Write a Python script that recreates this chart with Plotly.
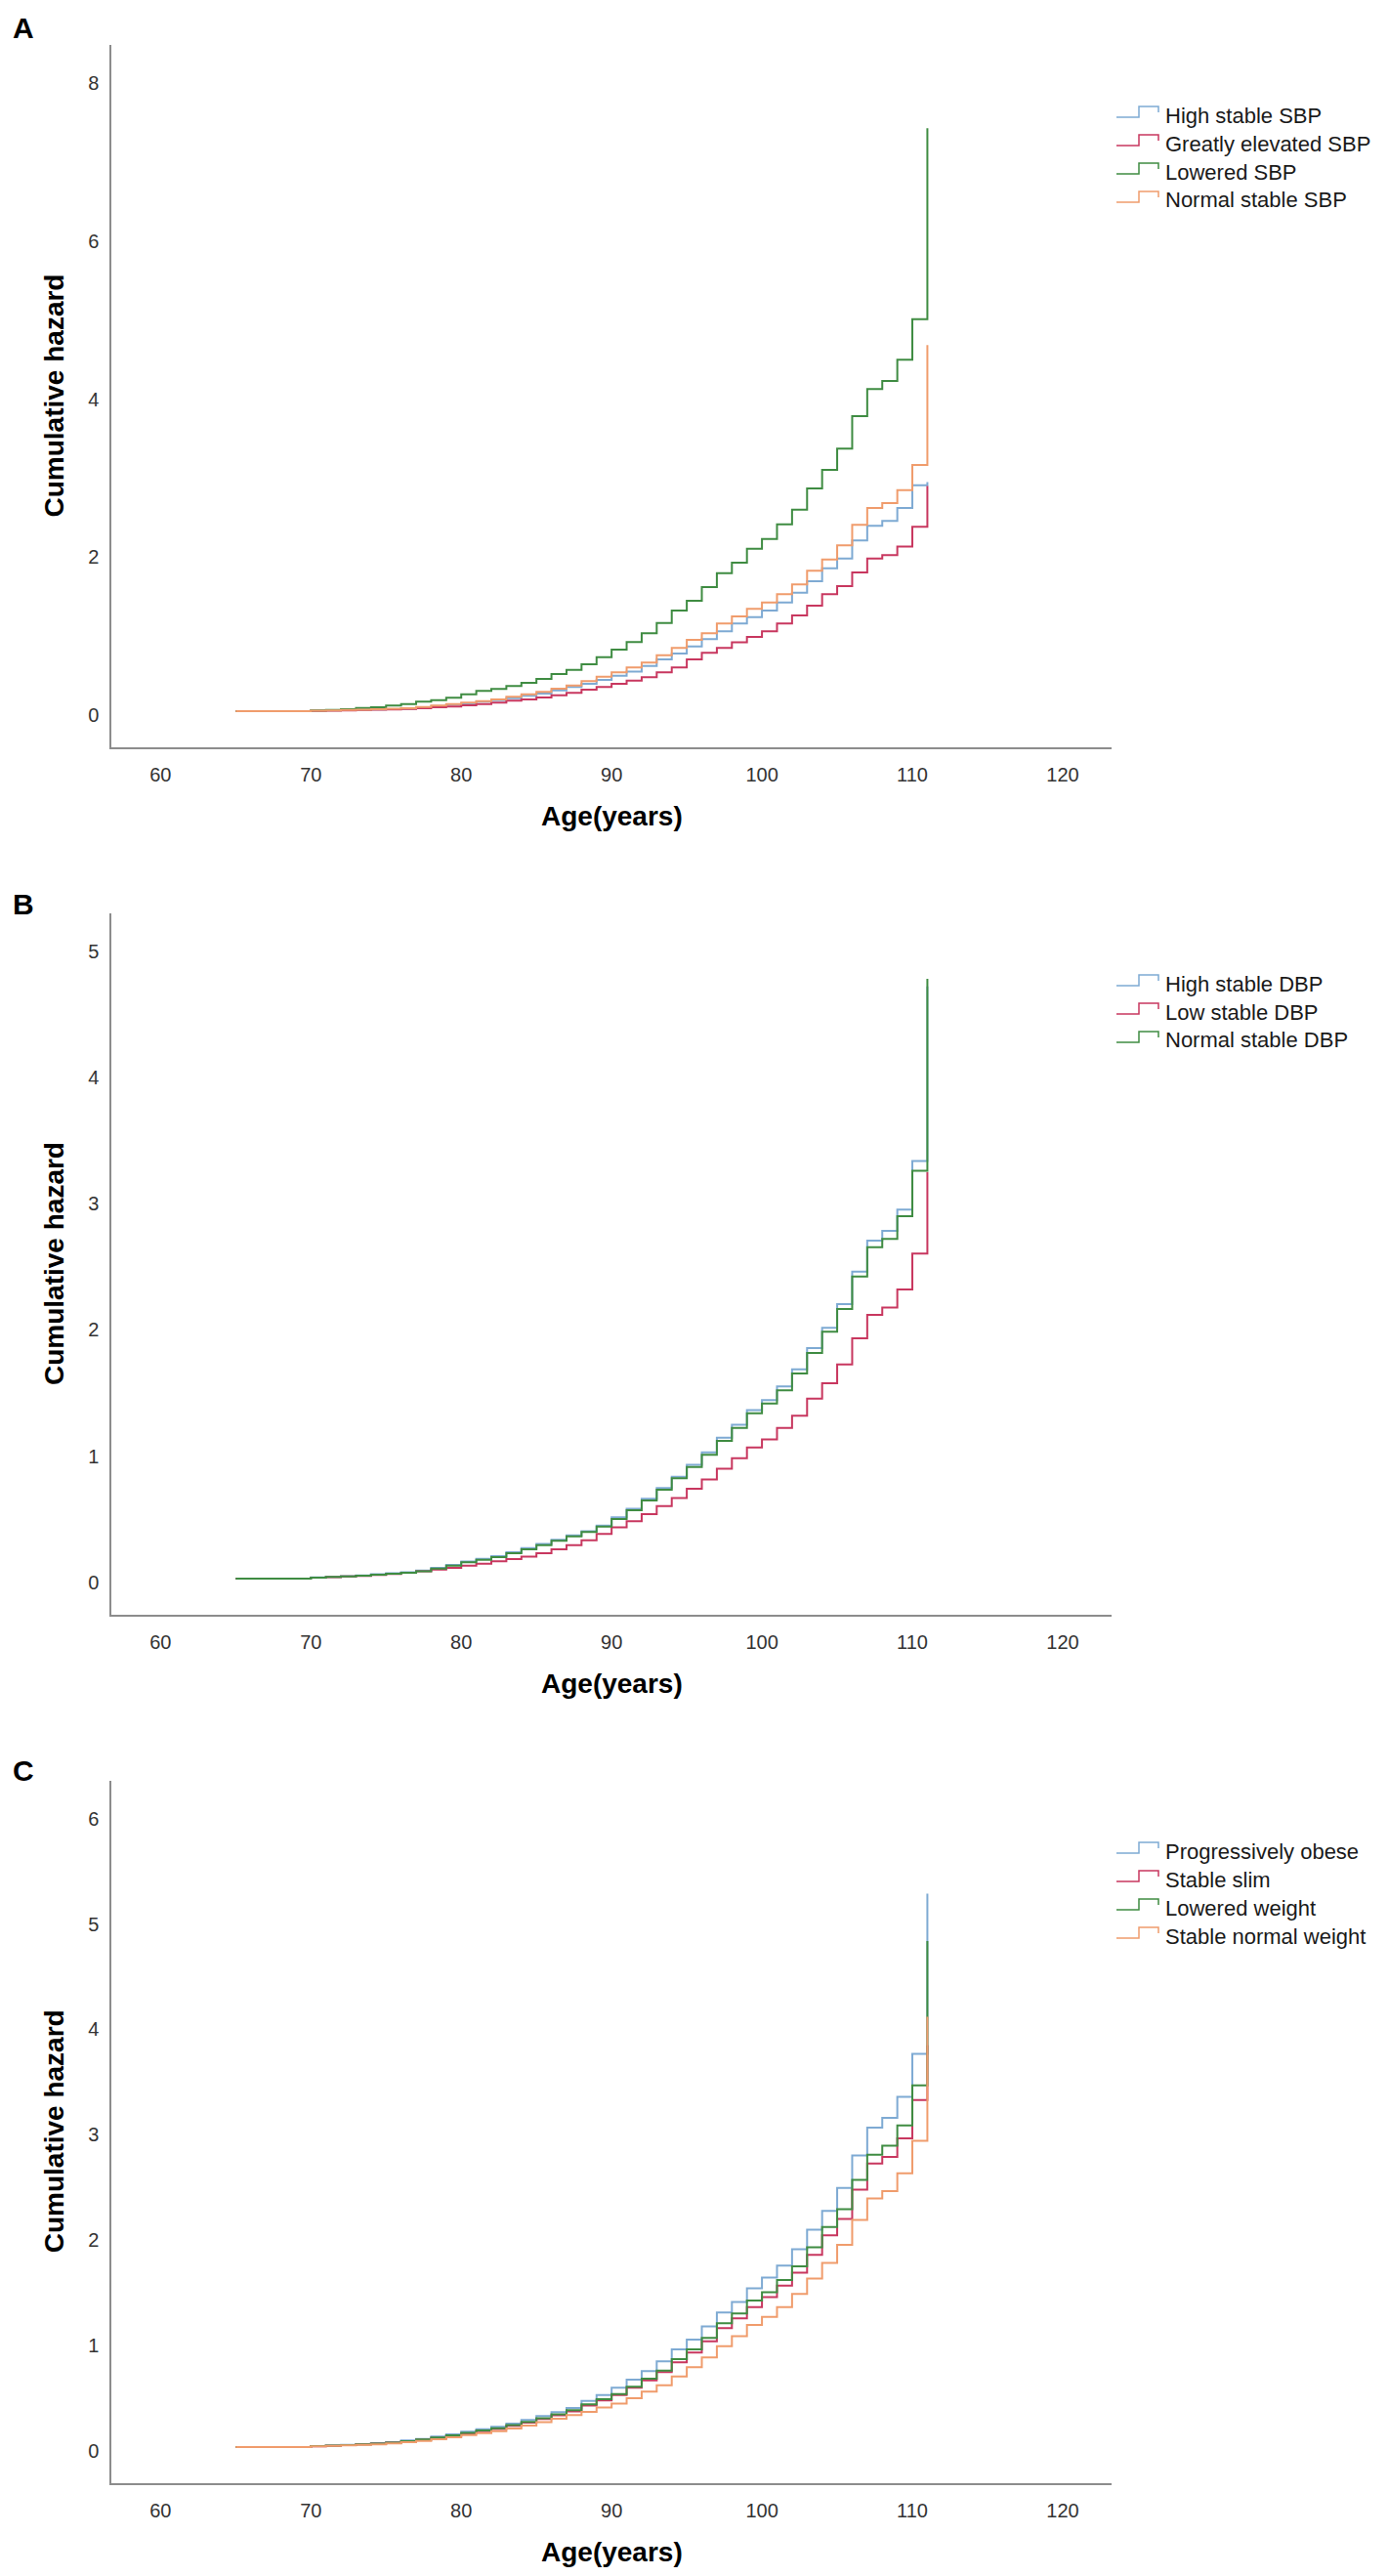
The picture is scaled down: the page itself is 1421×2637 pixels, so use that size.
"""
    Purpose: Cumulative hazard by age for blood pressure and weight trajectory groups,
        three stacked panels (A: SBP, B: DBP, C: weight). Step curves, one per group.
    Outputs:
        out.html: self-contained html file with the three panels.
"""
##########==========##########==========##########==========##########==========##########==========
## INITIALIZE

import plotly.graph_objects as go

## ages (step starts 65..110, final vertical at 111)
AGES = [65, 66, 67, 68, 69, 70, 71, 72, 73, 74, 75, 76, 77, 78, 79, 80, 81, 82, 83, 84, 85, 86, 87,
        88, 89, 90, 91, 92, 93, 94, 95, 96, 97, 98, 99, 100, 101, 102, 103, 104, 105, 106, 107, 108,
        109, 110, 111]

## panel A - systolic blood pressure
SBP_HIGH_STABLE = [0.05, 0.05, 0.05, 0.05, 0.05,
                   0.055, 0.06, 0.062, 0.066, 0.07, 0.075,
                   0.082, 0.099, 0.115, 0.132, 0.148, 0.169, 0.190, 0.214, 0.243, 0.272, 0.313,
                   0.355, 0.396, 0.445, 0.499, 0.552, 0.623, 0.705, 0.779, 0.870, 0.961,
                   1.06, 1.158, 1.241, 1.323, 1.426, 1.550, 1.694, 1.859, 1.983, 2.210, 2.395,
                   2.457, 2.622, 2.911,
                   2.95]
SBP_GREATLY_ELEVATED = [0.05, 0.05, 0.05, 0.05, 0.05,
                        0.053, 0.057, 0.06, 0.064, 0.068, 0.072,
                        0.078, 0.087, 0.099, 0.107, 0.124, 0.140, 0.157, 0.181, 0.198, 0.223,
                        0.251, 0.280, 0.322, 0.355, 0.396, 0.437, 0.478, 0.540, 0.602, 0.705,
                        0.788,
                        0.85, 0.92, 0.99, 1.06, 1.158, 1.262, 1.385, 1.530, 1.633, 1.806, 1.983,
                        2.024, 2.135, 2.383,
                        2.90]
SBP_LOWERED = [0.05, 0.05, 0.05, 0.05, 0.05,
               0.06, 0.065, 0.075, 0.09, 0.10, 0.12,
               0.140, 0.169, 0.190, 0.219, 0.264, 0.305, 0.330, 0.367, 0.408, 0.458, 0.519,
               0.573, 0.643, 0.734, 0.829, 0.924, 1.035, 1.166, 1.323, 1.447, 1.620,
               1.797, 1.930, 2.107, 2.230, 2.416, 2.601, 2.870, 3.105, 3.373, 3.785, 4.127,
               4.230, 4.498, 5.013,
               7.43]
SBP_NORMAL_STABLE = [0.05, 0.05, 0.05, 0.05, 0.05,
                     0.055, 0.06, 0.064, 0.068, 0.073, 0.08,
                     0.087, 0.103, 0.120, 0.140, 0.157, 0.177, 0.198, 0.231, 0.264, 0.293, 0.334,
                     0.375, 0.429, 0.487, 0.540, 0.602, 0.664, 0.759, 0.849, 0.952, 1.035,
                     1.158, 1.249, 1.344, 1.426, 1.530, 1.653, 1.826, 1.971, 2.148, 2.408, 2.622,
                     2.684, 2.849, 3.166,
                     4.684]

## panel B - diastolic blood pressure
DBP_HIGH_STABLE = [0.032, 0.032, 0.032, 0.032, 0.032,
                   0.040, 0.045, 0.051, 0.057, 0.065, 0.073,
                   0.081, 0.095, 0.116, 0.140, 0.166, 0.187, 0.209, 0.240, 0.272, 0.305, 0.339,
                   0.374, 0.407, 0.451, 0.516, 0.585, 0.663, 0.748, 0.838, 0.933, 1.031,
                   1.147, 1.250, 1.366, 1.444, 1.552, 1.688, 1.856, 2.016, 2.204, 2.462, 2.707,
                   2.784, 2.952, 3.338,
                   4.72]
DBP_LOW_STABLE = [0.031, 0.031, 0.031, 0.031, 0.031,
                  0.038, 0.043, 0.048, 0.053, 0.060, 0.068,
                  0.077, 0.090, 0.103, 0.116, 0.134, 0.149, 0.168, 0.186, 0.206, 0.232, 0.263,
                  0.296, 0.335, 0.385, 0.438, 0.485, 0.541, 0.606, 0.670, 0.742, 0.817,
                  0.902, 0.985, 1.070, 1.134, 1.224, 1.320, 1.457, 1.578, 1.727, 1.933, 2.119,
                  2.178, 2.320, 2.604,
                  3.25]
DBP_NORMAL_STABLE = [0.031, 0.031, 0.031, 0.031, 0.031,
                     0.039, 0.044, 0.049, 0.054, 0.062, 0.070,
                     0.077, 0.090, 0.111, 0.134, 0.160, 0.180, 0.201, 0.232, 0.263, 0.296, 0.330,
                     0.366, 0.400, 0.443, 0.503, 0.572, 0.650, 0.735, 0.825, 0.915, 1.011,
                     1.121, 1.224, 1.340, 1.418, 1.521, 1.655, 1.817, 1.985, 2.166, 2.423, 2.655,
                     2.720, 2.900, 3.261,
                     4.78]

## panel C - weight
W_PROG_OBESE = [0.035, 0.035, 0.035, 0.035, 0.035,
                0.045, 0.051, 0.057, 0.063, 0.072, 0.082,
                0.097, 0.113, 0.134, 0.156, 0.181, 0.205, 0.227, 0.258, 0.292, 0.329, 0.366,
                0.406, 0.474, 0.530, 0.598, 0.676, 0.756, 0.849, 0.963, 1.056, 1.180,
                1.313, 1.412, 1.542, 1.644, 1.758, 1.913, 2.098, 2.278, 2.495, 2.804, 3.067,
                3.160, 3.361, 3.769,
                5.29]
W_STABLE_SLIM = [0.035, 0.035, 0.035, 0.035, 0.035,
                 0.043, 0.048, 0.054, 0.060, 0.067, 0.076,
                 0.089, 0.104, 0.122, 0.142, 0.165, 0.187, 0.208, 0.236, 0.267, 0.301, 0.337,
                 0.375, 0.430, 0.478, 0.530, 0.598, 0.669, 0.747, 0.840, 0.933, 1.040,
                 1.165, 1.258, 1.365, 1.458, 1.567, 1.690, 1.861, 2.046, 2.200, 2.479, 2.727,
                 2.789, 2.965, 3.330,
                 3.85]
W_LOWERED = [0.035, 0.035, 0.035, 0.035, 0.035,
             0.044, 0.049, 0.055, 0.061, 0.069, 0.078,
             0.092, 0.107, 0.126, 0.147, 0.170, 0.193, 0.214, 0.243, 0.275, 0.310, 0.346,
             0.385, 0.440, 0.490, 0.539, 0.608, 0.685, 0.762, 0.871, 0.963, 1.072,
             1.211, 1.304, 1.427, 1.505, 1.622, 1.752, 1.931, 2.124, 2.293, 2.572, 2.810,
             2.897, 3.089, 3.469,
             4.84]
W_STABLE_NORMAL = [0.035, 0.035, 0.035, 0.035, 0.035,
                   0.042, 0.046, 0.051, 0.056, 0.062, 0.070,
                   0.081, 0.094, 0.110, 0.128, 0.148, 0.168, 0.187, 0.212, 0.240, 0.271, 0.304,
                   0.340, 0.370, 0.410, 0.447, 0.499, 0.561, 0.623, 0.706, 0.793, 0.886,
                   0.994, 1.087, 1.195, 1.272, 1.365, 1.490, 1.634, 1.783, 1.954, 2.191, 2.396,
                   2.464, 2.634, 2.943,
                   4.12]

X_TICKS = [60, 70, 80, 90, 100, 110, 120]
Y_TICKS_A = [0, 2, 4, 6, 8]
Y_TICKS_B = [0, 1, 2, 3, 4, 5]
Y_TICKS_C = [0, 1, 2, 3, 4, 5, 6]

## define parameters
params = dict()
params['page_margin'] = 8            # default body margin of the written html page
params['width'] = 1421 - 2 * params['page_margin']
params['height'] = 2637 - 2 * params['page_margin']
params['font'] = 'Arial, Liberation Sans, sans-serif'
params['colors'] = {'blue': '#7eaad3', 'red': '#c8375f', 'green': '#3f8c42', 'orange': '#f09c6c'}
params['axis_color'] = '#8c8c8c'
params['x_px'] = [114.3, 1138]       # left / right edge of every panel, window pixels
params['panels'] = {                 # top px, bottom px, y range, letter y px (window pixels)
    'A': dict(top = 46, bottom = 765, yrange = [-0.408, 8.484], letter_y = 28, ticks = Y_TICKS_A),
    'B': dict(top = 935, bottom = 1653, yrange = [-0.255, 5.298], letter_y = 925, ticks = Y_TICKS_B),
    'C': dict(top = 1823, bottom = 2541.6, yrange = [-0.304, 6.36], letter_y = 1812, ticks = Y_TICKS_C),
}
params['series'] = {
    'A': [('High stable SBP', SBP_HIGH_STABLE, 'blue'),
          ('Greatly elevated SBP', SBP_GREATLY_ELEVATED, 'red'),
          ('Lowered SBP', SBP_LOWERED, 'green'),
          ('Normal stable SBP', SBP_NORMAL_STABLE, 'orange')],
    'B': [('High stable DBP', DBP_HIGH_STABLE, 'blue'),
          ('Low stable DBP', DBP_LOW_STABLE, 'red'),
          ('Normal stable DBP', DBP_NORMAL_STABLE, 'green')],
    'C': [('Progressively obese', W_PROG_OBESE, 'blue'),
          ('Stable slim', W_STABLE_SLIM, 'red'),
          ('Lowered weight', W_LOWERED, 'green'),
          ('Stable normal weight', W_STABLE_NORMAL, 'orange')],
}


##########==========##########==========##########==========##########==========##########==========
## COMPONENT FUNCTIONS

def px_x(px):
    """window pixel -> paper x"""
    return (px - params['page_margin']) / params['width']


def px_y(py):
    """window pixel -> paper y"""
    return 1 - (py - params['page_margin']) / params['height']


def create_figure():
    """Blank figure with one pair of axes per panel"""
    fig = go.Figure()
    layout = dict(
        width = params['width'], height = params['height'],
        margin = dict(l = 0, r = 0, t = 0, b = 0),
        plot_bgcolor = 'white', paper_bgcolor = 'white',
        showlegend = False,
        font = dict(family = params['font'], color = '#333333'),
    )
    for i, key in enumerate(params['panels'].keys()):
        p = params['panels'][key]
        suffix = '' if i == 0 else str(i + 1)
        layout['xaxis' + suffix] = dict(
            domain = [px_x(params['x_px'][0]), px_x(params['x_px'][1])],
            range = [56.75, 123.25], tickvals = X_TICKS,
            anchor = 'y' + suffix, showgrid = False, zeroline = False,
            showline = True, linecolor = params['axis_color'], linewidth = 2,
            ticks = '', ticklabelstandoff = 9,
            tickfont = dict(size = 20, color = '#333333'),
        )
        layout['yaxis' + suffix] = dict(
            domain = [px_y(p['bottom']), px_y(p['top'])],
            range = p['yrange'], tickvals = p['ticks'],
            anchor = 'x' + suffix, showgrid = False, zeroline = False,
            showline = True, linecolor = params['axis_color'], linewidth = 2,
            ticks = '', ticklabelstandoff = 7,
            tickfont = dict(size = 20, color = '#333333'),
        )
    fig = fig.update_layout(**layout)
    return fig


def add_curves(fig):
    """Step curves, drawn in legend order so the last group sits on top"""
    for i, key in enumerate(params['series'].keys()):
        suffix = '' if i == 0 else str(i + 1)
        for name, values, color in params['series'][key]:
            fig.add_trace(go.Scatter(
                x = AGES, y = values, name = name, mode = 'lines',
                line = dict(shape = 'hv', color = params['colors'][color], width = 2),
                xaxis = 'x' + suffix, yaxis = 'y' + suffix,
            ))
    return fig


def add_labels(fig):
    """Panel letters, axis titles and the step-icon keys"""
    mid_x = (params['x_px'][0] + params['x_px'][1]) / 2
    for key, p in params['panels'].items():
        fig.add_annotation(
            x = px_x(24), y = px_y(p['letter_y']), xref = 'paper', yref = 'paper',
            text = '<b>' + key + '</b>', showarrow = False,
            font = dict(size = 30, color = 'black'), xanchor = 'center', yanchor = 'middle')
        fig.add_annotation(
            x = px_x(55), y = px_y((p['top'] + p['bottom']) / 2), xref = 'paper', yref = 'paper',
            text = '<b>Cumulative hazard</b>', showarrow = False, textangle = -90,
            font = dict(size = 28, color = 'black'), xanchor = 'center', yanchor = 'middle')
        fig.add_annotation(
            x = px_x(mid_x), y = px_y(p['bottom'] + 71), xref = 'paper', yref = 'paper',
            text = '<b>Age(years)</b>', showarrow = False,
            font = dict(size = 28, color = 'black'), xanchor = 'center', yanchor = 'middle')

        ## key
        for j, (name, values, color) in enumerate(params['series'][key]):
            yc = p['top'] + 72 + 29 * j
            path = 'M {},{} H {} V {} H {} V {}'.format(
                px_x(1143), px_y(yc + 2), px_x(1166), px_y(yc - 9), px_x(1186), px_y(yc - 3))
            fig.add_shape(type = 'path', path = path, xref = 'paper', yref = 'paper',
                          line = dict(color = params['colors'][color], width = 1.5))
            fig.add_annotation(
                x = px_x(1191), y = px_y(yc), xref = 'paper', yref = 'paper',
                text = name, showarrow = False, xanchor = 'left', yanchor = 'middle',
                font = dict(size = 22, color = '#1a1a1a'))
    return fig


##########==========##########==========##########==========##########==========##########==========
## TOP-LEVEL FUNCTIONS

def draw_hazard_panels():
    fig = create_figure()
    fig = add_curves(fig)
    fig = add_labels(fig)
    fig.write_html('out.html')
    return fig


if __name__ == '__main__':
    draw_hazard_panels()

##########==========##########==========##########==========##########==========##########==========
